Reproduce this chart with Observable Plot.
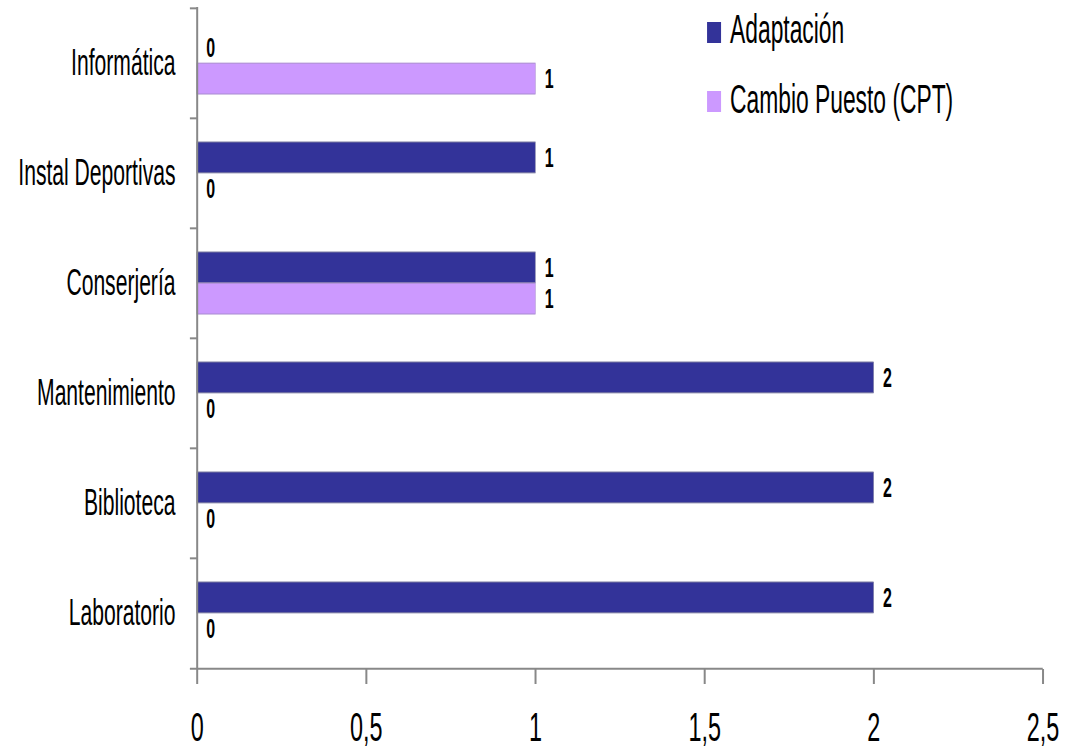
<!DOCTYPE html>
<html>
<head>
<meta charset="utf-8">
<script src="https://cdn.jsdelivr.net/npm/d3@7"></script>
<script src="https://cdn.jsdelivr.net/npm/@observablehq/plot@0.6"></script>
<style>
  html, body { margin: 0; padding: 0; background: #fff; }
  #chart { width: 1073px; height: 750px; overflow: hidden; }
</style>
</head>
<body>
<div id="chart"></div>
<script>
// ---- data ----
const categories = ["Informática", "Instal Deportivas", "Conserjería", "Mantenimiento", "Biblioteca", "Laboratorio"];
const adaptacion = [0, 1, 1, 2, 2, 2];
const cambioPuesto = [1, 0, 1, 0, 0, 0];
const seriesNames = ["Adaptación", "Cambio Puesto (CPT)"];
const seriesColors = ["#333399", "#CC99FF"];
const xTicks = [0, 0.5, 1, 1.5, 2, 2.5];

const rows = categories.map((cat, i) => ({cat, a: adaptacion[i], c: cambioPuesto[i]}));

// the reference is horizontally condensed; draw in a wider frame and squeeze it
const S = 0.5707;
const W = 1880, H = 750;
const mTop = 7, mBottom = 81, mLeft = 345, mRight = 53;
const band = (H - mTop - mBottom) / categories.length;
const half = band / 2;
const barInset = 24;
const fmt = d => String(d).replace(".", ",");
const axisGray = "#888888";

const chart = Plot.plot({
  width: W,
  height: H,
  marginTop: mTop,
  marginBottom: mBottom,
  marginLeft: mLeft,
  marginRight: mRight,
  style: {fontFamily: "'Liberation Sans', Arial, sans-serif", background: "#fff", color: "#000"},
  x: {domain: [0, 2.5]},
  y: {domain: categories, padding: 0},
  marks: [
    Plot.barX(rows.filter(d => d.a > 0), {
      x: "a", y: "cat", fill: seriesColors[0],
      stroke: "#7a7aa0", strokeWidth: 1,
      insetTop: barInset, insetBottom: half
    }),
    Plot.barX(rows.filter(d => d.c > 0), {
      x: "c", y: "cat", fill: seriesColors[1],
      stroke: "#a88ad0", strokeWidth: 1,
      insetTop: half, insetBottom: barInset
    }),
    Plot.text(rows, {
      x: "a", y: "cat", text: d => fmt(d.a), dy: -(half - barInset) / 2 - 0.3,
      dx: 16, textAnchor: "start", fontSize: 28, fontWeight: "bold", fill: "#000"
    }),
    Plot.text(rows, {
      x: "c", y: "cat", text: d => fmt(d.c), dy: (half - barInset) / 2 + 0.3,
      dx: 16, textAnchor: "start", fontSize: 28, fontWeight: "bold", fill: "#000"
    }),
    // y axis line
    Plot.ruleX([0], {stroke: axisGray, strokeWidth: 3.5}),
    // category boundary ticks
    Plot.ruleY(categories, {y: d => d, dy: -half, x1: 0, x2: 0, insetLeft: -12.3, stroke: axisGray, strokeWidth: 2}),
    // x axis line (bottom of last band)
    Plot.ruleY([categories[categories.length - 1]], {y: d => d, dy: half, x1: 0, x2: 2.5, insetLeft: -12.3, stroke: axisGray, strokeWidth: 2}),
    Plot.axisX({
      ticks: xTicks, tickFormat: fmt, tickSize: 15, tickPadding: 27,
      fontSize: 41, stroke: axisGray, strokeWidth: 3.5, fill: "#000", label: null
    }),
    Plot.axisY({tickSize: 0, tickPadding: 38, fontSize: 37, fill: "#000", label: null})
  ]
});

// legend (inside the svg, in the wide frame's coordinates)
const leg = d3.select(chart).append("g")
  .attr("font-family", "'Liberation Sans', Arial, sans-serif")
  .attr("text-anchor", "start");
const legX = 707 / S, legTextX = 730 / S;
const legRows = [{y: 22, base: 43}, {y: 91, base: 113}];
seriesNames.forEach((name, i) => {
  leg.append("rect").attr("x", legX).attr("y", legRows[i].y).attr("width", 14 / S).attr("height", 21).attr("fill", seriesColors[i]);
  leg.append("text").attr("x", legTextX).attr("y", legRows[i].base).attr("font-size", 40)
    .attr("text-anchor", "start").attr("fill", "#000").text(name);
});

chart.setAttribute("viewBox", `0 0 ${W} ${H}`);
chart.setAttribute("preserveAspectRatio", "none");
chart.setAttribute("width", 1073);
chart.setAttribute("height", H);
chart.style.width = "1073px";
chart.style.height = H + "px";
chart.style.maxWidth = "none";
document.getElementById("chart").appendChild(chart);
</script>
</body>
</html>
